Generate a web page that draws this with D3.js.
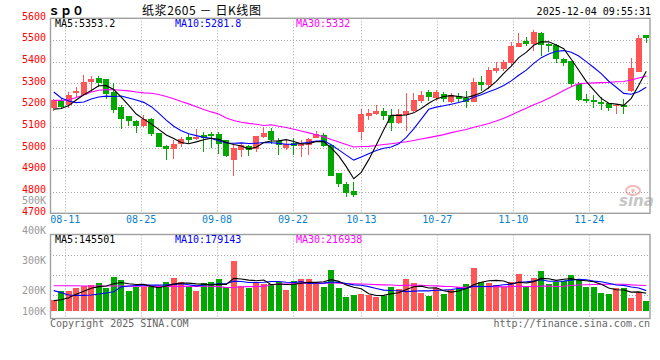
<!DOCTYPE html>
<html><head><meta charset="utf-8">
<script src="https://cdn.jsdelivr.net/npm/d3@7/dist/d3.min.js"></script>
<style>body{margin:0;background:#fff}svg{display:block}</style>
</head><body>
<svg id="c" width="660" height="360"></svg>
<script>
// ---------------- data ----------------
const dates = ["08-07","08-08","08-11","08-12","08-13","08-14","08-15","08-18","08-19","08-20","08-21","08-22","08-25","08-26","08-27","08-28","08-29",
"09-01","09-02","09-03","09-04","09-05","09-08","09-09","09-10","09-11","09-12","09-15","09-16","09-17","09-18","09-19","09-22","09-23","09-24","09-25","09-26","09-29","09-30",
"10-09","10-10","10-13","10-14","10-15","10-16","10-17","10-20","10-21","10-22","10-23","10-24","10-27","10-28","10-29","10-30","10-31",
"11-03","11-04","11-05","11-06","11-07","11-10","11-11","11-12","11-13","11-14","11-17","11-18","11-19","11-20","11-21","11-24","11-25","11-26","11-27","11-28",
"12-01","12-02","12-03","12-04"];
const open = [5186,5218,5200,5256,5248,5306,5326,5320,5262,5192, 5148,5126,5104,5136,5070,5012,4998,5020,5052,5044,
 5062,5066,5066,5038,4946,4992,5012,4996,5050,5078, 5034,5000,5026,5012,5014,5048,5062,5014,4884,4836,
 4802,5076,5148,5158,5172,5152,5118,5154,5170,5218, 5260,5234,5250,5216,5242,5230,5216,5304,5290,5358,
 5364,5394,5468,5496,5482,5534,5482,5476,5412,5402, 5296,5228,5224,5212,5208,5198,5200,5266,5354,5522];
const high = [5226,5232,5258,5284,5338,5336,5332,5322,5300,5200, 5150,5130,5154,5138,5072,5014,5038,5054,5066,5090,
 5076,5076,5076,5040,5016,5024,5014,5058,5100,5092, 5046,5044,5046,5038,5048,5080,5072,5016,4886,4844,
 4846,5182,5182,5200,5188,5180,5180,5256,5254,5264, 5270,5270,5258,5254,5254,5264,5326,5334,5374,5400,
 5408,5492,5530,5514,5546,5536,5488,5482,5418,5404, 5304,5250,5244,5238,5210,5204,5228,5416,5524,5524];
const low = [5170,5180,5188,5238,5246,5262,5284,5226,5164,5090, 5104,5072,5098,5058,5004,4946,4950,5008,5020,5040,
 4984,5000,4972,4958,4872,4960,4966,4984,5048,5022, 4970,4992,4970,4960,4970,5046,5006,4870,4822,4774,
 4776,5038,5130,5156,5130,5082,5114,5082,5168,5208, 5220,5218,5216,5210,5208,5184,5212,5264,5276,5346,
 5358,5378,5468,5472,5450,5428,5446,5392,5382,5284, 5218,5208,5188,5178,5172,5158,5158,5260,5352,5484];
const close = [5222,5192,5246,5266,5308,5320,5302,5250,5176,5134, 5128,5102,5134,5066,5008,4998,5020,5042,5038,5050,
 5046,5056,5020,4964,5000,5014,4990,5056,5072,5038, 5016,5018,5012,5018,5044,5066,5010,4872,4834,4796,
 4786,5158,5164,5172,5148,5118,5158,5172,5222,5248, 5238,5260,5226,5244,5226,5216,5304,5290,5362,5372,
 5400,5472,5486,5482,5538,5478,5474,5412,5396,5296, 5222,5218,5212,5204,5184,5202,5190,5372,5508,5508];
const volume = [93500,170000,170000,198000,210000,221000,238000,198000,289000,263500,
 170000,204000,204000,204000,204000,246500,283000,246500,204000,172500,
 238000,246500,272000,204000,425000,215000,198000,246500,232000,227000,
 244000,178500,255000,272000,272000,238000,204000,348500,198000,121500,
 136000,144500,136000,121500,127500,204000,187000,272000,238000,155500,
 127500,198000,144500,176000,204000,229500,365500,246500,238000,221000,
 204000,246500,314500,204000,280500,340000,229500,246500,255000,306000,
 272000,204000,204000,153000,144500,198000,193000,113000,164000,85000];
// moving-average values at the start of the window (history before 08-07)
const ma5Head = [5181,5184,5197,5223];
const ma10Head = [5260,5232,5218,5211,5214,5228,5237,5241,5239];
const ma30Head = [5221,5221,5223,5234,5246,5260,5268,5271,5270,5268,5265,5260,5256,5254,5248,5239,5229,5216,5205,5192,5179,5168,5158,5140,5128,5120,5115,5111,5105];
const vma5Head = [88000,96000,113000,142000];
const vma10Head = [173000,156000,136000,133000,133000,136000,144500,153000,164000];
const vma30Head = [215000,215000,214000,214000,213000,213000,213000,212000,212000,212000,211000,210000,210000,210000,209000,209000,209000,209000,209000,209000,210000,210000,207000,200000,200000,206000,207000,208000,209000];
const priceTicks = [5600,5500,5400,5300,5200,5100,5000,4900,4800,4700];
const volTicks = [500000,400000,300000,200000,100000];
const dateTicks = ["08-11","08-25","09-08","09-22","10-13","10-27","11-10","11-24"];
const legendPrice = ["MA5:5353.2","MA10:5281.8","MA30:5332"];
const legendVol = ["MA5:145501","MA10:179143","MA30:216938"];
const title = "纸浆2605 － 日K线图";
const stamp = "2025-12-04 09:55:31";

// ---------------- helpers ----------------
function movAvg(arr, n, head){
  return arr.map((v,i)=> i < n-1 ? head[i] : d3.mean(arr.slice(i-n+1,i+1)));
}
const RED="#ff5555", GREEN="#00a800", GRID="#a8a8a8", BORDER="#a0a0a0";
const MONO="'DejaVu Sans Mono', monospace";
const L=50, R=650, pTop=18.3, pBot=213.3, vTop=234.5, vBot=318.5, vBase=311;

const svg=d3.select("#c");
const xB=d3.scaleBand().domain(dates).range([L,R]).paddingInner(0.2).paddingOuter(0.1);
const xP=d3.scalePoint().domain(dates).range([L,R]);
const bw=xB.bandwidth();
const cx=d=>Math.floor(xB(d)+bw/2)+0.5;
const yP=d3.scaleLinear().domain([4700,5600]).range([pBot,pTop]);
const yV=d3.scaleLinear().domain([0,650000]).range([vBase,vBase-650000/8500]);
const yVLab=d3.scaleLinear().domain([100000,500000]).range([320.5,200.5]);
const crisp=v=>Math.round(v)+0.5;

// clip paths
const defs=svg.append("defs");
defs.append("clipPath").attr("id","cp").append("rect").attr("x",L).attr("y",pTop).attr("width",R-L).attr("height",pBot-pTop);
defs.append("clipPath").attr("id","cv").append("rect").attr("x",L).attr("y",vTop).attr("width",R-L).attr("height",vBot-vTop);

// ---------------- grids ----------------
const g=svg.append("g");
g.selectAll(".hp").data(priceTicks.slice(1,-1)).join("line")
 .attr("x1",L).attr("x2",R).attr("y1",d=>crisp(yP(d))).attr("y2",d=>crisp(yP(d)))
 .attr("stroke",GRID).attr("stroke-dasharray","1,2");
const vg=d3.scaleLinear().domain([0,4]).range([235.5,315.5]);
g.selectAll(".hv").data([1,2,3]).join("line")
 .attr("x1",L).attr("x2",R).attr("y1",d=>vg(d)).attr("y2",d=>vg(d))
 .attr("stroke",GRID).attr("stroke-dasharray","1,2");
dateTicks.forEach(d=>{
  const x=crisp(xP(d));
  g.append("line").attr("x1",x).attr("x2",x).attr("y1",pTop).attr("y2",pBot).attr("stroke",GRID).attr("stroke-dasharray","1,2");
  g.append("line").attr("x1",x).attr("x2",x).attr("y1",vTop).attr("y2",vBot).attr("stroke",GRID).attr("stroke-dasharray","1,2");
});

// ---------------- watermark ----------------
const wm=svg.append("g").attr("opacity",0.55);
wm.append("ellipse").attr("cx",633).attr("cy",190.5).attr("rx",7).attr("ry",4.5).attr("fill","none").attr("stroke","#ee8080").attr("stroke-width",2);
wm.append("circle").attr("cx",633).attr("cy",190.5).attr("r",1.8).attr("fill","#ee8080");
wm.append("text").attr("x",619).attr("y",206).attr("font-family","'DejaVu Sans', sans-serif").attr("font-style","italic").attr("font-weight","bold")
 .attr("font-size",15).attr("fill","#999").text("sina");

// ---------------- candles ----------------
const idx=d3.range(dates.length);
const cg=svg.append("g").attr("clip-path","url(#cp)").attr("shape-rendering","crispEdges");
cg.selectAll(".wk").data(idx).join("line")
 .attr("x1",i=>cx(dates[i])).attr("x2",i=>cx(dates[i]))
 .attr("y1",i=>yP(high[i])).attr("y2",i=>yP(low[i]))
 .attr("stroke",i=>close[i]>=open[i]?RED:GREEN);
cg.selectAll(".bd").data(idx).join("rect")
 .attr("x",i=>Math.round(xB(dates[i]))).attr("width",Math.round(bw))
 .attr("y",i=>yP(Math.max(open[i],close[i])))
 .attr("height",i=>Math.max(1,Math.abs(yP(open[i])-yP(close[i]))))
 .attr("fill",i=>close[i]>=open[i]?RED:GREEN);

// ---------------- volume bars ----------------
const vb=svg.append("g").attr("clip-path","url(#cv)").attr("shape-rendering","crispEdges");
vb.selectAll("rect").data(idx).join("rect")
 .attr("x",i=>Math.round(xB(dates[i]))).attr("width",Math.round(bw))
 .attr("y",i=>yV(volume[i])).attr("height",i=>vBase-yV(volume[i]))
 .attr("fill",i=>close[i]>=open[i]?RED:GREEN);

// ---------------- MA lines ----------------
const colors=["#000000","#0000ff","#ff00ff"];
const pm=[movAvg(close,5,ma5Head),movAvg(close,10,ma10Head),movAvg(close,30,ma30Head)];
const vm=[movAvg(volume,5,vma5Head),movAvg(volume,10,vma10Head),movAvg(volume,30,vma30Head)];
const lp=svg.append("g").attr("clip-path","url(#cp)");
const lv=svg.append("g").attr("clip-path","url(#cv)");
[2,1,0].forEach(k=>{
  lp.append("path").attr("d",d3.line().x(i=>xB(dates[i])+bw/2).y(i=>yP(pm[k][i]))(idx))
   .attr("fill","none").attr("stroke",colors[k]).attr("stroke-width",1.1);
  lv.append("path").attr("d",d3.line().x(i=>xB(dates[i])+bw/2).y(i=>yV(vm[k][i]))(idx))
   .attr("fill","none").attr("stroke",colors[k]).attr("stroke-width",1.1);
});

// ---------------- borders ----------------
svg.append("rect").attr("x",L+0.5).attr("y",pTop).attr("width",R-L-0.5).attr("height",pBot-pTop)
 .attr("fill","none").attr("stroke",BORDER).attr("stroke-width",1.4);
svg.append("rect").attr("x",L+0.5).attr("y",vTop).attr("width",R-L-0.5).attr("height",vBot-vTop)
 .attr("fill","none").attr("stroke",BORDER).attr("stroke-width",1.4);

// ---------------- axis labels ----------------
const t=svg.append("g").attr("font-family",MONO).attr("font-size",10);
t.selectAll(".pl").data(priceTicks).join("text")
 .attr("x",46).attr("y",d=>yP(d)-2).attr("dy","0.35em").attr("text-anchor","end").attr("fill","#ff0000").text(d=>d);
t.selectAll(".vl").data(volTicks).join("text")
 .attr("x",46).attr("y",d=>Math.min(yVLab(d),311)).attr("dy","0.35em").attr("text-anchor","end").attr("fill","#999").text(d=>(d/1000)+"K");
t.selectAll(".dl").data(dateTicks).join("text")
 .attr("x",d=>xP(d)).attr("y",219.5).attr("dy","0.35em").attr("text-anchor","middle").attr("fill","#0a7fd0").text(d=>d);

// legends
const lx=[55,175,296];
legendPrice.forEach((s,k)=>t.append("text").attr("x",lx[k]).attr("y",23).attr("dy","0.35em").attr("fill",colors[k]).text(s));
legendVol.forEach((s,k)=>t.append("text").attr("x",lx[k]).attr("y",239.5).attr("dy","0.35em").attr("fill",colors[k]).text(s));

// header
svg.append("text").attr("x",48).attr("y",11).attr("dy","0.35em").attr("font-family","'Noto Sans CJK SC', sans-serif")
 .attr("font-weight","bold").attr("font-size",12).attr("fill","#000").text("ｓｐ０");
svg.append("text").attr("x",142).attr("y",10.5).attr("dy","0.35em").attr("font-family","'Noto Sans CJK SC', sans-serif")
 .attr("font-size",12).attr("letter-spacing",0.6).attr("fill","#000").text(title);
t.append("text").attr("x",651).attr("y",11.5).attr("dy","0.35em").attr("text-anchor","end").attr("fill","#000").text(stamp);

// footer
t.append("text").attr("x",50).attr("y",323.5).attr("dy","0.35em").attr("fill","#666").text("Copyright 2025 SINA.COM");
t.append("text").attr("x",650).attr("y",323.5).attr("dy","0.35em").attr("text-anchor","end").attr("fill","#666").text("http://finance.sina.com.cn");
</script>
</body></html>
